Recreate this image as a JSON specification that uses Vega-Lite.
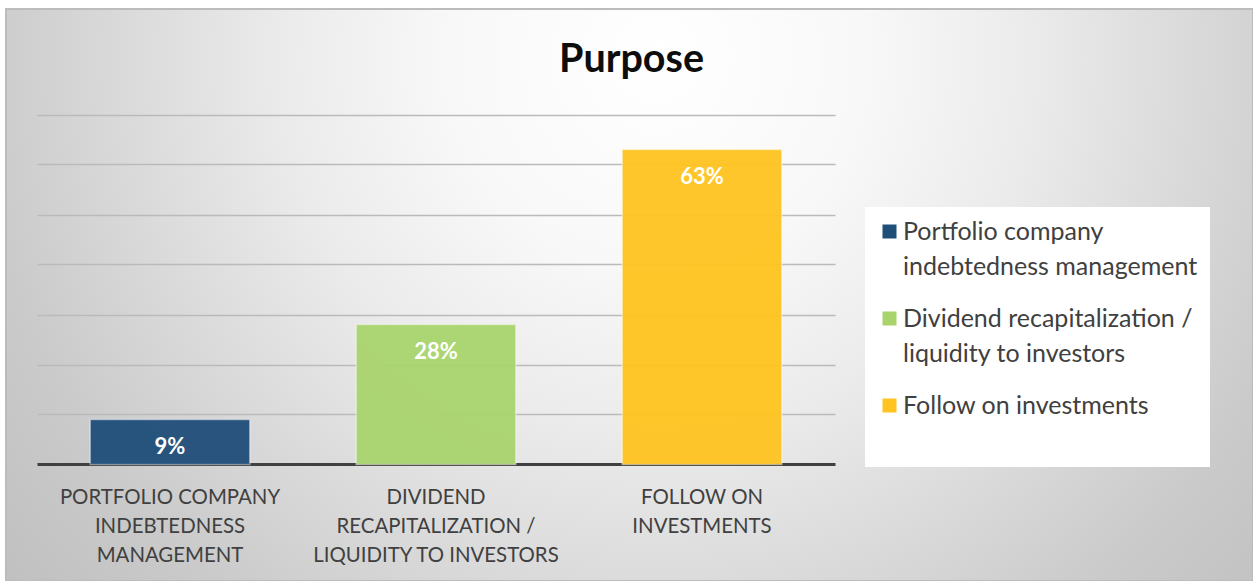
{
  "$schema": "https://vega.github.io/schema/vega-lite/v6.json",
  "width": 1247,
  "height": 572,
  "autosize": {"type": "none"},
  "padding": {"left": 6, "top": 9, "right": 0, "bottom": 0},
  "background": "white",
  "title": {
    "text": "Purpose",
    "font": "Lato",
    "fontSize": 39.5,
    "fontWeight": "bold",
    "color": "#0d0d0d",
    "anchor": "middle",
    "baseline": "alphabetic",
    "offset": 0,
    "dy": 102,
    "dx": 2
  },
  "data": {
    "values": [
      {"purpose": "Portfolio company indebtedness management", "share": 0.09},
      {"purpose": "Dividend recapitalization / liquidity to investors", "share": 0.28},
      {"purpose": "Follow on investments", "share": 0.63}
    ]
  },
  "layer": [
    {
      "mark": {"type": "bar", "stroke": "white", "strokeOpacity": 0.45, "strokeWidth": 1.5, "opacity": 0.95},
      "encoding": {
        "x": {
          "field": "purpose",
          "type": "nominal",
          "sort": null,
          "scale": {"range": [31, 829], "paddingInner": 0.4, "paddingOuter": 0.2},
          "axis": {
            "title": null,
            "orient": "bottom",
            "offset": -117,
            "domainColor": "#404040",
            "domainWidth": 3,
            "ticks": false,
            "labelAngle": 0,
            "labelFont": "Lato",
            "labelFontSize": 20.4,
            "labelColor": "#404040",
            "labelLineHeight": 29,
            "labelBaseline": "top",
            "labelPadding": 23,
            "labelLimit": 400,
            "labelOverlap": false,
            "labelExpr": "datum.value == 'Portfolio company indebtedness management' ? ['PORTFOLIO COMPANY', 'INDEBTEDNESS', 'MANAGEMENT'] : datum.value == 'Dividend recapitalization / liquidity to investors' ? ['DIVIDEND', 'RECAPITALIZATION /', 'LIQUIDITY TO INVESTORS'] : ['FOLLOW ON', 'INVESTMENTS']"
          }
        },
        "y": {
          "field": "share",
          "type": "quantitative",
          "scale": {"domain": [0, 0.7], "range": [455.5, 105.5], "nice": false},
          "axis": {
            "title": null,
            "values": [0.1, 0.2, 0.3, 0.4, 0.5, 0.6, 0.7],
            "labels": false,
            "ticks": false,
            "domain": false,
            "grid": true,
            "gridColor": "#bababa",
            "gridWidth": 1.5
          }
        },
        "color": {
          "field": "purpose",
          "type": "nominal",
          "sort": null,
          "scale": {
            "domain": ["Portfolio company indebtedness management", "Dividend recapitalization / liquidity to investors", "Follow on investments"],
            "range": ["#1f4e79", "#a9d46d", "#ffc41f"]
          },
          "legend": {
            "orient": "none",
            "legendX": 859,
            "legendY": 198,
            "fillColor": "white",
            "padding": 12,
            "symbolType": "square",
            "symbolSize": 196,
            "symbolStrokeWidth": 0,
            "symbolOpacity": 1,
            "labelFont": "Lato",
            "labelFontSize": 25,
            "labelColor": "#404040",
            "labelLimit": 400,
            "labelOffset": 1,
            "rowPadding": 26,
            "title": "\u2003\u2003\u2003\u2003\u2003\u2003\u2003\u2003\u2003\u2003\u2003\u2003\u2003\u2003\u2003\u2003\u2003\u2002",
            "titleOrient": "bottom",
            "titleFont": "DejaVu Sans",
            "titleFontSize": 20,
            "titleLimit": 1000,
            "titlePadding": 16,
            "labelExpr": "datum.value == 'Portfolio company indebtedness management' ? ['Portfolio company', 'indebtedness management'] : datum.value == 'Dividend recapitalization / liquidity to investors' ? ['Dividend recapitalization /', 'liquidity to investors'] : datum.value",
            "encode": {"labels": {"update": {"lineHeight": {"value": 35}}}}
          }
        }
      }
    },
    {
      "mark": {"type": "text", "font": "Lato", "fontSize": 22, "fontWeight": "bold", "color": "white", "baseline": "middle", "dy": 27},
      "encoding": {
        "x": {"field": "purpose", "type": "nominal", "sort": null},
        "y": {"field": "share", "type": "quantitative"},
        "text": {"field": "share", "format": ".0%"}
      }
    }
  ],
  "config": {
    "style": {"guide-label": {"lineHeight": 35}},
    "view": {
      "stroke": "#bcbcbc",
      "strokeWidth": 2,
      "fill": {
        "gradient": "radial",
        "x1": 0.522, "y1": 0.31, "r1": 0,
        "x2": 0.522, "y2": 0.31, "r2": 0.67,
        "stops": [
          {"offset": 0, "color": "#ffffff"},
          {"offset": 0.25, "color": "#f8f8f8"},
          {"offset": 0.45, "color": "#ebebeb"},
          {"offset": 0.65, "color": "#d9d9d9"},
          {"offset": 0.82, "color": "#cacaca"},
          {"offset": 1, "color": "#c0c0c0"}
        ]
      }
    }
  }
}
